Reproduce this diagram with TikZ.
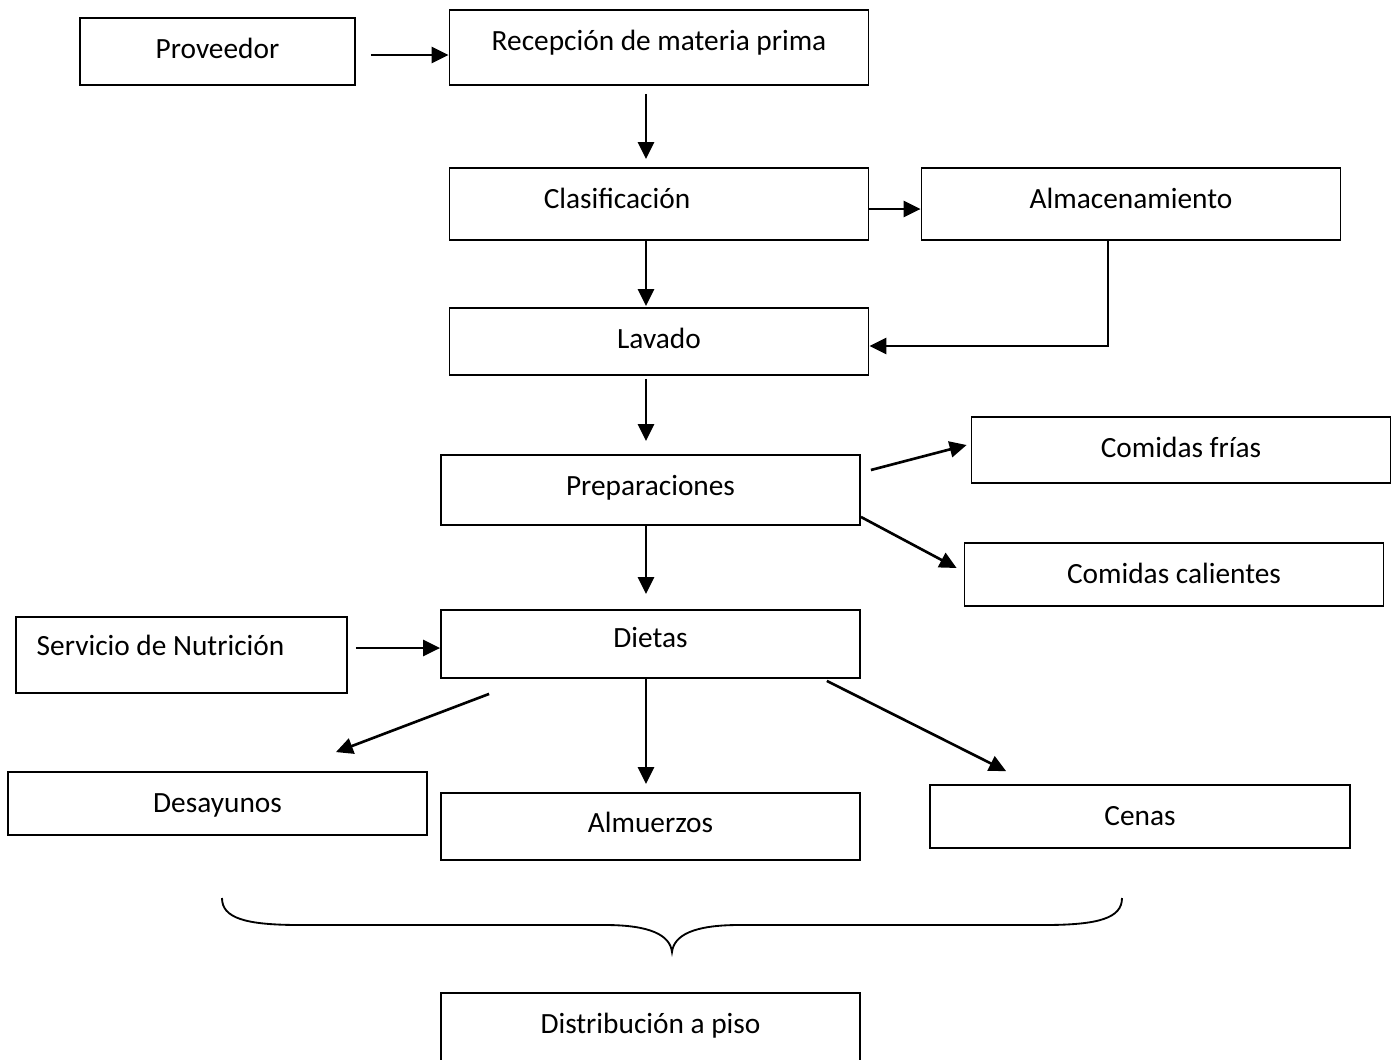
\documentclass[tikz,border=0pt]{standalone}
\usepackage{fontspec}
\setmainfont{Carlito}
\usetikzlibrary{arrows.meta}

\begin{document}
\begin{tikzpicture}[x=0.02cm, y=-0.02cm,
    box/.style={draw, line width=1.05pt, inner sep=0pt,
      minimum width=8.38cm, minimum height=1.36cm,
      font=\fontsize{16.7}{20}\selectfont},
    lift/.style={text height=15.4pt, text depth=#1},
    arr/.style={line width=1.5pt, -{Triangle[length=3.4mm, width=3.2mm]}}]
  \useasboundingbox (0,0) rectangle (1400,1059);

  \node[box, lift=7pt, minimum width=5.5cm, minimum height=1.34cm] (prov) at (217.5,51.5) {Proveedor};
  \node[box, lift=11.5pt, minimum height=1.5cm] (recep) at (659,47.5) {Recepción de materia prima};
  \node[box, lift=9.8pt, minimum height=1.44cm] (clas) at (659,204) {Clasificación\hspace*{1.68cm}};
  \node[box, lift=9.8pt, minimum height=1.44cm] (almac) at (1131,204) {Almacenamiento};
  \node[box, lift=7pt, minimum height=1.34cm] (lav) at (659,341.5) {Lavado};
  \node[box, lift=6.4pt, minimum height=1.32cm] (frias) at (1181,450) {Comidas frías};
  \node[box, lift=8.6pt, minimum height=1.4cm] (prep) at (650.5,490) {Preparaciones};
  \node[box, lift=4.7pt, minimum height=1.26cm] (calien) at (1174,574.5) {Comidas calientes};
  \node[box, lift=14.4pt, minimum width=6.62cm, minimum height=1.52cm] (serv) at (181.5,655) {Servicio de Nutrición\hspace*{0.84cm}};
  \node[box, lift=11pt] (diet) at (650.5,644) {Dietas};
  \node[box, lift=4.7pt, minimum height=1.26cm] (desay) at (217.5,803.5) {Desayunos};
  \node[box, lift=8.1pt, minimum height=1.34cm] (almuer) at (650.5,826.5) {Almuerzos};
  \node[box, lift=4.7pt, minimum width=8.4cm, minimum height=1.26cm] (cenas) at (1140,816.5) {Cenas};
  \node[box, lift=14.4pt, minimum height=1.6cm] (distr) at (650.5,1033) {Distribución a piso};

  \draw[arr, shorten <=0.3cm] ([yshift=-0.07cm]prov.east) -- ([yshift=-0.07cm]prov.east -| recep.west);
  \draw[arr, shorten <=0.16cm, shorten >=0.16cm] ([xshift=-0.26cm]recep.south) -- ([xshift=-0.26cm]clas.north);
  \draw[arr] ([yshift=-0.1cm]clas.east) -- ([yshift=-0.1cm]clas.east -| almac.west);
  \draw[arr, shorten >=0.02cm] ([xshift=-0.26cm]clas.south) -- ([xshift=-0.26cm]lav.north);
  \draw[arr] ([xshift=-0.46cm]almac.south) |- ([yshift=-0.09cm]lav.east);
  \draw[arr, shorten <=0.06cm, shorten >=0.26cm] ([xshift=-0.26cm]lav.south) -- ([xshift=-0.26cm]lav.south |- prep.north);
  \draw[arr] ([shift={(0.2cm,0.4cm)}]prep.east) -- ([shift={(-0.08cm,0.1cm)}]frias.west);
  \draw[arr] ([yshift=0.18cm]prep.south east) -- ([shift={(-0.14cm,0.13cm)}]calien.west);
  \draw[arr, shorten >=0.3cm] ([xshift=-0.09cm]prep.south) -- ([xshift=-0.09cm]diet.north);
  \draw[arr, shorten <=0.16cm] ([yshift=0.14cm]serv.east) -- ([yshift=0.14cm]serv.east -| diet.west);
  \draw[arr] ([shift={(0.98cm,-0.3cm)}]diet.south west) -- ([shift={(-1.84cm,0.38cm)}]desay.north east);
  \draw[arr, shorten >=0.16cm] ([xshift=-0.09cm]diet.south) -- ([xshift=-0.09cm]almuer.north);
  \draw[arr] ([shift={(-0.68cm,-0.04cm)}]diet.south east) -- ([shift={(1.54cm,0.26cm)}]cenas.north west);

  % llave
  \draw[line width=1.05pt] (222,898) .. controls (222,918) and (245,925) .. (300,925)
    -- (605,925) .. controls (650,925) and (670,935) .. (672,952)
    .. controls (674,935) and (694,925) .. (739,925)
    -- (1044,925) .. controls (1099,925) and (1122,918) .. (1122,898);
\end{tikzpicture}
\end{document}
